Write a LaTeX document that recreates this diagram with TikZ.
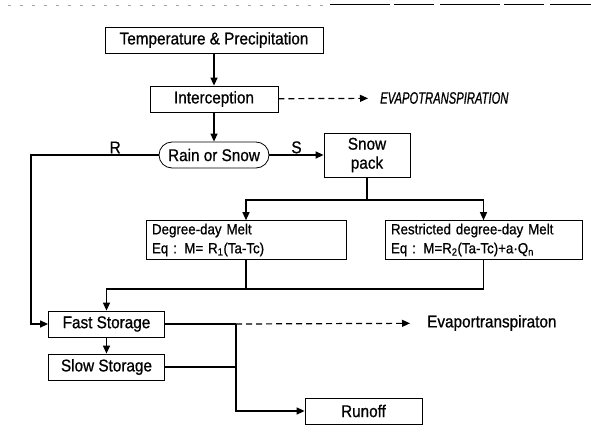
\documentclass[tikz,border=0pt]{standalone}
\usepackage{fontspec}
\setmainfont{Liberation Sans}[FakeStretch=0.9, FakeBold=0.8]
\newfontfamily\capsfont{Liberation Sans}[FakeStretch=0.68, FakeBold=0.8]
\usetikzlibrary{arrows.meta}
\tikzset{
	box/.style={draw, line width=0.8pt, minimum height=26pt, inner sep=2pt, font=\fontsize{17}{19}\selectfont},
	eqbox/.style={draw, line width=0.8pt, minimum height=38pt, inner xsep=6pt, inner ysep=3pt, align=left, font=\fontsize{14.8}{19}\selectfont},
	lbl/.style={inner sep=1pt, font=\fontsize{17}{19}\selectfont},
	link/.style={line width=1.3pt},
	arr/.style={line width=1.3pt, -{Triangle[length=8pt,width=7pt]}},
	dasharr/.style={line width=1.2pt, dash pattern=on 6pt off 4pt, -{Triangle[length=8pt,width=7pt]}}
}
\begin{document}
\begin{tikzpicture}[x=1pt,y=-1pt]
	\useasboundingbox (0,0) rectangle (591,441);
	\draw[gray!70, line width=0.5pt, dash pattern=on 3pt off 9pt] (8,5) -- (330,5);
	\draw[line width=1pt, dash pattern=on 60pt off 4pt on 40pt off 6pt] (330,5) -- (591,5);
	\path (214,40) node[box, minimum width=218pt] (T) {Temperature \& Precipitation}
	(214,99) node[box, minimum width=128pt] (I) {Interception}
	(214,155) node[box, rounded corners=13pt, minimum width=110pt] (RS) {Rain or Snow}
	(367,155) node[box, minimum width=86pt, minimum height=44pt, align=center] (SP) {Snow\\pack}
	(246,240) node[eqbox, text width=188pt] (DD) {Degree-day Melt\\Eq : M= R\textsubscript{1}(Ta-Tc)}
	(483.5,240) node[eqbox, text width=185pt] (RD) {Restricted degree-day Melt\\Eq : M=R\textsubscript{2}(Ta-Tc)+a·Q\textsubscript{n}}
	(106.5,324) node[box, minimum width=116pt] (FS) {Fast Storage}
	(106.5,367) node[box, minimum width=116pt] (SS) {Slow Storage}
	(363.5,411) node[box, minimum width=117pt] (RO) {Runoff}
	(380,98) node[right, inner sep=0pt, font=\capsfont\itshape\fontsize{16.5}{18}\selectfont] (E1) {EVAPOTRANSPIRATION}
	(427,323) node[right, inner sep=0pt, font=\fontsize{17}{19}\selectfont] (E2) {Evaportranspiraton};
	\path (31,155) coordinate (r0)
	(367,200) coordinate (s0)
	(246,289) coordinate (m0)
	(236,324) coordinate (f0);
	\draw[arr] (T) -- (I);
	\draw[dasharr, shorten >=12pt] (I) -- (E1);
	\draw[arr] (I) -- (RS);
	\draw[arr] (RS) -- node[lbl, above] (Sl) {S} (SP);
	\draw[arr] (RS.west) -- node[lbl, above, pos=0.34] (Rl) {R} (r0) |- (FS.west);
	\draw[link] (SP) -- (s0);
	\draw[arr] (s0) -| (DD.north);
	\draw[arr] (s0) -| (RD.north);
	\draw[link] (DD) -- (m0);
	\draw[arr] (RD.south) |- (m0) -| (FS.north);
	\draw[arr] (FS) -- (SS);
	\draw[link] (FS) -- (f0);
	\draw[link] (SS.east) -- (SS.east -| f0);
	\draw[dasharr, shorten >=17pt] (f0) -- (E2);
	\draw[arr] (f0) |- (RO.west);
\end{tikzpicture}
\end{document}
